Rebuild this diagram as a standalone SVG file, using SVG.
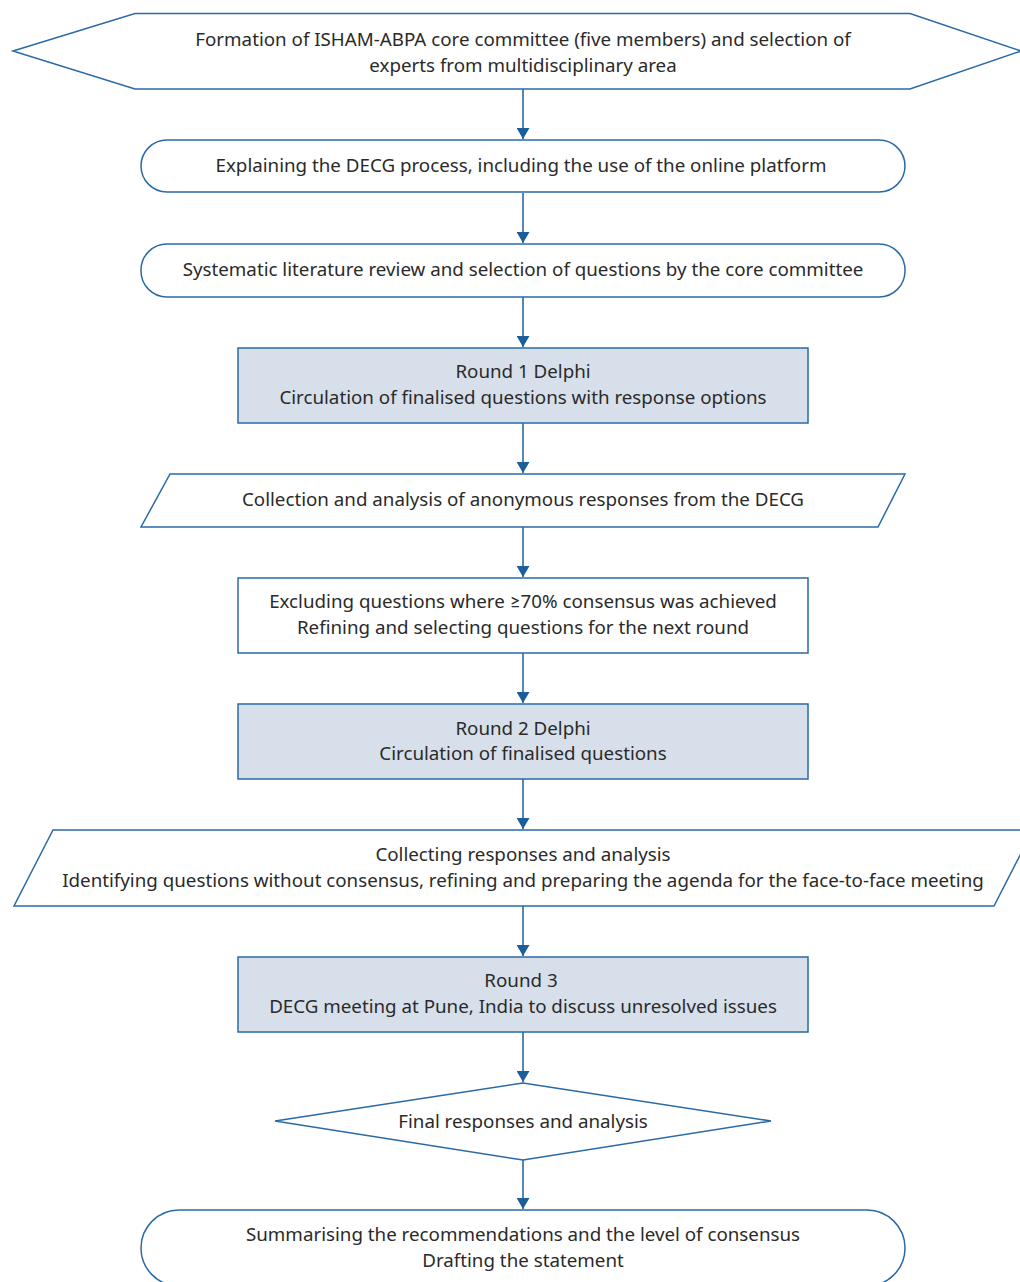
<svg xmlns="http://www.w3.org/2000/svg" width="1020" height="1282" viewBox="0 0 1020 1282">
<defs>
<style>
.s{fill:#ffffff;stroke:#2a6aa6;stroke-width:1.5}
.f{fill:#d7dfea;stroke:#2a6aa6;stroke-width:1.5}
.c{stroke:#2a6aa6;stroke-width:1.6;fill:none}
text{font-family:"Noto Sans","Lato",sans-serif;font-size:18.75px;fill:#2a2a2a;text-anchor:middle}
</style>
<marker id="ah" viewBox="0 0 11 13" refX="11" refY="6.5" markerWidth="11" markerHeight="13" markerUnits="userSpaceOnUse" orient="auto">
<path d="M0,0 L11,6.5 L0,13 Z" fill="#1b5e9b"/>
</marker>
</defs>
<rect width="1020" height="1282" fill="#ffffff"/>
<g id="connectors">
<line class="c" x1="523" y1="89" x2="523" y2="139" marker-end="url(#ah)"/>
<line class="c" x1="523" y1="193" x2="523" y2="243" marker-end="url(#ah)"/>
<line class="c" x1="523" y1="297" x2="523" y2="347" marker-end="url(#ah)"/>
<line class="c" x1="523" y1="423" x2="523" y2="473" marker-end="url(#ah)"/>
<line class="c" x1="523" y1="527" x2="523" y2="577" marker-end="url(#ah)"/>
<line class="c" x1="523" y1="653" x2="523" y2="703" marker-end="url(#ah)"/>
<line class="c" x1="523" y1="779" x2="523" y2="829" marker-end="url(#ah)"/>
<line class="c" x1="523" y1="906" x2="523" y2="956" marker-end="url(#ah)"/>
<line class="c" x1="523" y1="1032" x2="523" y2="1082" marker-end="url(#ah)"/>
<line class="c" x1="523" y1="1160" x2="523" y2="1209" marker-end="url(#ah)"/>
</g>
<g id="n1">
<polygon class="s" points="13,51 135,13.5 910,13.5 1021,51 910,89 135,89"/>
<text x="523" y="46">Formation of ISHAM-ABPA core committee (five members) and selection of</text>
<text x="523" y="72">experts from multidisciplinary area</text>
</g>
<g id="n2">
<rect class="s" x="141" y="140" width="764" height="52" rx="26" ry="26"/>
<text x="521" y="172">Explaining the DECG process, including the use of the online platform</text>
</g>
<g id="n3">
<rect class="s" x="141" y="244" width="764" height="53" rx="26" ry="26"/>
<text x="523" y="276">Systematic literature review and selection of questions by the core committee</text>
</g>
<g id="n4">
<rect class="f" x="238" y="348" width="570" height="75"/>
<text x="523" y="378">Round 1 Delphi</text>
<text x="523" y="404">Circulation of finalised questions with response options</text>
</g>
<g id="n5">
<polygon class="s" points="170,474 905,474 878,527 141,527"/>
<text x="523" y="506">Collection and analysis of anonymous responses from the DECG</text>
</g>
<g id="n6">
<rect class="s" x="238" y="578" width="570" height="75"/>
<text x="523" y="608">Excluding questions where ≥70% consensus was achieved</text>
<text x="523" y="634">Refining and selecting questions for the next round</text>
</g>
<g id="n7">
<rect class="f" x="238" y="704" width="570" height="75"/>
<text x="523" y="735">Round 2 Delphi</text>
<text x="523" y="760">Circulation of finalised questions</text>
</g>
<g id="n8">
<polygon class="s" points="53,830 1033,830 994,906 14,906"/>
<text x="523" y="861">Collecting responses and analysis</text>
<text x="523" y="887">Identifying questions without consensus, refining and preparing the agenda for the face-to-face meeting</text>
</g>
<g id="n9">
<rect class="f" x="238" y="957" width="570" height="75"/>
<text x="521" y="987">Round 3</text>
<text x="523" y="1013">DECG meeting at Pune, India to discuss unresolved issues</text>
</g>
<g id="n10">
<polygon class="s" points="275,1121 523,1083 771,1121 523,1160"/>
<text x="523" y="1128">Final responses and analysis</text>
</g>
<g id="n11">
<rect class="s" x="141" y="1210" width="764" height="76" rx="38" ry="38"/>
<text x="523" y="1241">Summarising the recommendations and the level of consensus</text>
<text x="523" y="1267">Drafting the statement</text>
</g>
</svg>
